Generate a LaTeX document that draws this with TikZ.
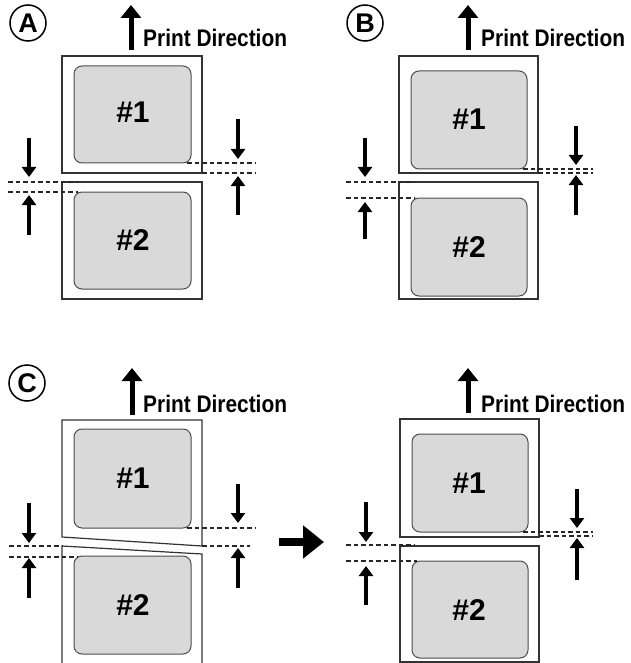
\documentclass[tikz,border=0pt]{standalone}
\usepackage{fontspec}
\setmainfont{Liberation Sans}
\usetikzlibrary{arrows.meta}
\begin{document}
\begin{tikzpicture}[x=1pt,y=-1pt,
  outerbox/.style={draw=black!80,line width=1.2pt},
  innerbox/.style={draw=black!70,line width=1pt,fill=black!15,rounded corners=8pt},
  dimline/.style={draw=black!85,line width=1.1pt,dash pattern=on 4.5pt off 3pt},
  smallarrow/.style={line width=4.5pt,-{Triangle[length=10pt,width=14pt]}},
  printarrow/.style={line width=5pt,-{Triangle[length=13pt,width=20pt]}},
  bigarrow/.style={line width=8pt,-{Triangle[length=21pt,width=32pt]}},
  labeltext/.style={font=\bfseries\fontsize{30}{30}\selectfont,inner sep=0pt,anchor=base},
  printtext/.style={inner sep=0pt,anchor=base west},
  panelmark/.style={draw=black,line width=1.5pt,circle,minimum size=36pt,inner sep=0pt,font=\bfseries\fontsize{27}{27}\selectfont}
]
\useasboundingbox (0,0) rectangle (630,663);
\newcommand{\printlabel}{\scalebox{0.87}[1]{\bfseries\fontsize{24}{24}\selectfont Print Direction}}

% ---------------- Panel A ----------------
\node[panelmark] (markA) at (28,23) {A};
\draw[printarrow] (131,50) -- (131,5);
\node[printtext] (printA) at (143,47) {\printlabel};
\draw[outerbox] (62,56) rectangle (202,173);
\draw[innerbox] (74,66) rectangle (191,163);
\node[labeltext] (a1) at (133,123) {\#1};
\draw[outerbox] (62,182) rectangle (202,299);
\draw[innerbox] (74,192) rectangle (191,289);
\node[labeltext] (a2) at (133,250) {\#2};
\draw[dimline] (8,182) -- (78,182);
\draw[dimline] (8,192) -- (78,192);
\draw[smallarrow] (29,138) -- (29,177);
\draw[smallarrow] (29,235) -- (29,195);
\draw[dimline] (187,163) -- (256,163);
\draw[dimline] (202,173) -- (256,173);
\draw[smallarrow] (238,119) -- (238,159);
\draw[smallarrow] (238,215) -- (238,176);

% ---------------- Panel B ----------------
\node[panelmark] (markB) at (365,23) {B};
\draw[printarrow] (468,50) -- (468,5);
\node[printtext] (printB) at (481,47) {\printlabel};
\draw[outerbox] (399,56) rectangle (538,173);
\draw[innerbox] (411,71) rectangle (527,169);
\node[labeltext] (b1) at (469,130) {\#1};
\draw[outerbox] (399,182) rectangle (538,299);
\draw[innerbox] (411,198) rectangle (527,296);
\node[labeltext] (b2) at (469,257) {\#2};
\draw[dimline] (346,182) -- (415,182);
\draw[dimline] (346,198) -- (415,198);
\draw[smallarrow] (365,138) -- (365,177);
\draw[smallarrow] (365,239) -- (365,202);
\draw[dimline] (523,169) -- (593,169);
\draw[dimline] (538,173) -- (593,173);
\draw[smallarrow] (576,126) -- (576,165);
\draw[smallarrow] (576,215) -- (576,175);

% ---------------- Panel C ----------------
\node[panelmark] (markC) at (27,383) {C};
\draw[printarrow] (132,415) -- (132,368);
\node[printtext] (printC) at (143,412) {\printlabel};
\draw[outerbox] (62,420) -- (202,420) -- (202,546) -- (62,537) -- cycle;
\draw[innerbox] (74,429) rectangle (191,528);
\node[labeltext] (c1) at (133,488) {\#1};
\draw[outerbox] (62,664) -- (62,546) -- (202,554) -- (202,664);
\draw[innerbox] (74,556) rectangle (191,654);
\node[labeltext] (c2) at (133,615) {\#2};
\draw[dimline] (9,546) -- (62,546);
\draw[dimline] (9,557) -- (78,557);
\draw[smallarrow] (29,503) -- (29,543);
\draw[smallarrow] (29,598) -- (29,558);
\draw[dimline] (187,528) -- (256,528);
\draw[dimline] (202,546) -- (250,546);
\draw[smallarrow] (238,484) -- (238,523);
\draw[smallarrow] (238,588) -- (238,548);

% big arrow
\coordinate (bigS) at (279,542);
\coordinate (bigE) at (324,542);
\draw[bigarrow] (bigS) -- (bigE);

% ---------------- Panel D ----------------
\draw[printarrow] (468,413) -- (468,368);
\node[printtext] (printD) at (481,412) {\printlabel};
\draw[outerbox] (400,419) rectangle (539,537);
\draw[innerbox] (412,434) rectangle (528,532);
\node[labeltext] (d1) at (469,493) {\#1};
\draw[outerbox] (400,546) rectangle (539,662);
\draw[innerbox] (412,561) rectangle (528,658);
\node[labeltext] (d2) at (469,620) {\#2};
\draw[dimline] (346,545) -- (415,545);
\draw[dimline] (346,561) -- (417,561);
\draw[smallarrow] (366,502) -- (366,542);
\draw[smallarrow] (366,605) -- (366,566);
\draw[dimline] (523,532) -- (593,532);
\draw[dimline] (539,536) -- (593,536);
\draw[smallarrow] (577,489) -- (577,528);
\draw[smallarrow] (577,580) -- (577,538);
\end{tikzpicture}
\end{document}
